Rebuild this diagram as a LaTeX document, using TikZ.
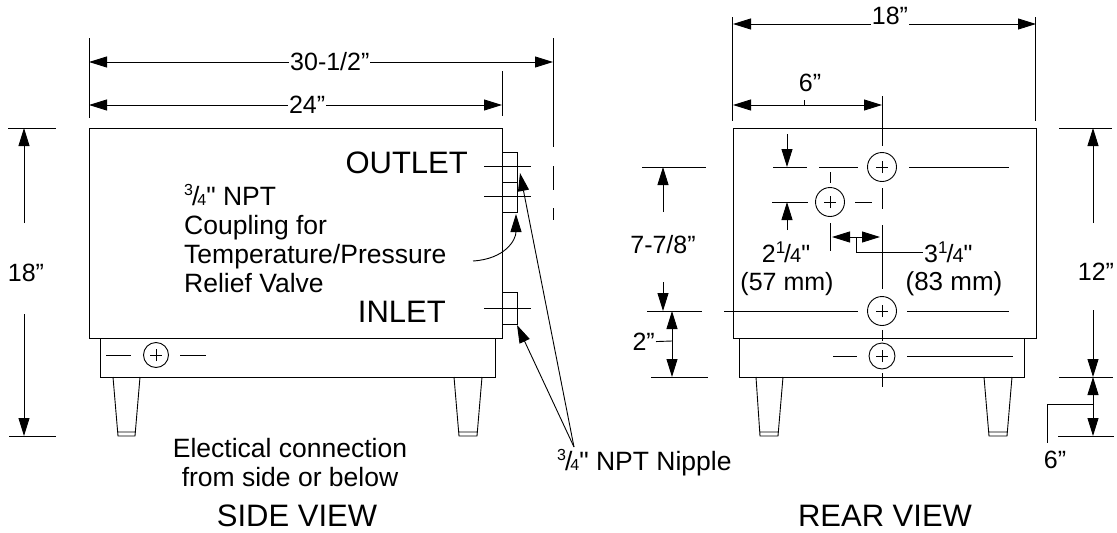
\documentclass[tikz,border=0pt]{standalone}
\usepackage{fontspec}
\newfontfamily\drawfont{Liberation Sans}
\usepackage{amsmath}
\usetikzlibrary{arrows.meta,positioning,calc}
\tikzstyle{part} = [line width=1pt, draw=black]
\tikzstyle{thinline} = [line width=0.9pt, draw=black]
\tikzstyle{dimto} = [line width=0.9pt, -{Triangle[length=18pt,width=11pt]}]
\tikzstyle{dimboth} = [line width=0.9pt, {Triangle[length=18pt,width=11pt]}-{Triangle[length=18pt,width=11pt]}]
\tikzstyle{dimtext} = [font=\drawfont\fontsize{25}{25}\selectfont, inner sep=1pt]
\tikzstyle{onlinetext} = [dimtext, fill=white]
\tikzstyle{labeltext} = [font=\drawfont\fontsize{26.5}{29}\selectfont, inner sep=0pt, align=center]
\tikzstyle{bigtext} = [font=\drawfont\fontsize{31}{31}\selectfont, inner sep=0pt]
\tikzstyle{port} = [circle, draw=black, line width=0.9pt, inner sep=0pt, minimum size=#1,
  path picture={\draw [line width=0.7pt] (path picture bounding box.center) +(-6pt,0) -- +(6pt,0)
    (path picture bounding box.center) +(0,-6pt) -- +(0,6pt);}]
\newcommand{\quarters}{\raisebox{.38em}{\fontsize{16}{16}\selectfont 3}\kern-1pt/\kern-2pt{\fontsize{16}{16}\selectfont 4}}
\newcommand{\onequarter}{\raisebox{.36em}{\fontsize{17}{17}\selectfont 1}\kern-1pt/\kern-1pt{\fontsize{20}{20}\selectfont 4}}
\begin{document}
\begin{tikzpicture}[x=1pt, y=-1pt]
	\useasboundingbox (0,0) rectangle (1117,533);

	% side view
	\draw [part] (89,128) rectangle (502,338);
	\draw [part] (100,338) rectangle (495,377);
	\foreach \xa/\xb/\xc/\xd in {113/118/135/140, 454/459/477/482, 756/760/778/783, 984/989/1007/1012}
		\draw [thinline] (\xa,377) -- (\xb,436) -- (\xc,436) -- (\xd,377) (\xb,432) -- (\xc,432);
	\draw [part] (502,152) rectangle (517,212) (502,182) -- (517,182);
	\draw [part] (502,292) rectangle (517,324);
	\foreach \y in {166,196,308}
		\draw [thinline] (484,\y) -- (531,\y);
	\node (sideport) [port=25pt] at (156,355) {};
	\draw [thinline] (106,355) -- (131,355) (180,355) -- (206,355);

	\coordinate (sideL1) at (89,62);
	\coordinate (sideR1) at (553,62);
	\coordinate (sideL2) at (89,105);
	\coordinate (sideR2) at (502,105);
	\draw [thinline] (89,38) -- (89,118) (502,71) -- (502,116);
	\draw [thinline] (553.5,38) -- (553.5,147) (553.5,166) -- (553.5,190) (553.5,208) -- (553.5,220);
	\draw [dimboth] (sideL1) -- node[onlinetext, pos=0.519] {30-1/2”} (sideR1);
	\draw [dimboth] (sideL2) -- node[onlinetext, pos=0.528] {24”} (sideR2);

	\draw [thinline] (8,128) -- (56,128) (9,436) -- (56,436);
	\coordinate (sideT) at (24,128);
	\coordinate (sideB) at (24,436);
	\node (side18) [dimtext] at (26,273) {18”};
	\draw [dimto] (24,223) -- (sideT);
	\draw [dimto] (24,314) -- (sideB);

	\node (outlet) [bigtext, anchor=east] at (468,163) {OUTLET};
	\node (inlet) [bigtext, anchor=east] at (446,312) {INLET};
	\node (coupling) [labeltext, align=left, anchor=north west] at (184,184) {\quarters" NPT\\Coupling for\\Temperature/Pressure\\Relief Valve};
	\node (elec) [labeltext] at (290,463) {Electical connection\\from side or below};
	\node (sidetitle) [bigtext] at (297,516) {SIDE VIEW};

	\coordinate (valvestart) at (473,261);
	\coordinate (valvetip) at (516,214);
	\draw [dimto] (valvestart) .. controls (505,259) and (516,240) .. (valvetip);
	\node (nipple) [labeltext, anchor=west] at (557,463) {\quarters" NPT Nipple};
	\coordinate (nipplefrom) at (574,447);
	\coordinate (nippletipA) at (520,173);
	\coordinate (nippletipB) at (517,325);
	\draw [dimto] (nipplefrom) -- (nippletipA);
	\draw [dimto] (nipplefrom) -- (nippletipB);

	% rear view
	\draw [part] (733,128) rectangle (1036,338);
	\draw [part] (739,338) rectangle (1024,377);
	\node (portA) [port=29pt] at (882,167) {};
	\node (portB) [port=29pt] at (830,202) {};
	\node (portC) [port=29pt] at (882,311) {};
	\node (portD) [port=26pt] at (882,356) {};
	\draw [thinline] (819,167) -- (858,167) (909,167) -- (1009,167);
	\draw [thinline] (855,202) -- (872,202);
	\draw [thinline] (724,311) -- (858,311) (907,311) -- (1009,311);
	\draw [thinline] (833,356) -- (857,356) (907,356) -- (1013,356);
	\draw [thinline] (882,96) -- (882,146) (882,188) -- (882,209) (882,225) -- (882,289)
		(882,330) -- (882,341) (882,373) -- (882,387);
	\draw [thinline] (830,172) -- (830,183) (830,223) -- (830,251);

	\coordinate (rearL1) at (733,24);
	\coordinate (rearR1) at (1036,24);
	\coordinate (rearL2) at (733,105);
	\coordinate (rearM2) at (882,105);
	\draw [thinline] (732.5,17) -- (732.5,121) (1035.5,17) -- (1035.5,121);
	\draw [dimboth] (rearL1) -- node[onlinetext, pos=0.518, yshift=8pt] {18”} (rearR1);
	\draw [dimboth] (rearL2) -- (rearM2);
	\draw [thinline] (804,100) -- (804,105);
	\node (rear6) [dimtext] at (810,83) {6”};

	% hole spacing
	\draw [thinline] (773,167) -- (807,167) (772,202) -- (808,202);
	\coordinate (gapT) at (787,167);
	\coordinate (gapB) at (787,202);
	\draw [dimto] (787,134) -- (gapT);
	\draw [dimto] (787,230) -- (gapB);
	\node (gapA) [dimtext] at (786,252) {2\onequarter"};
	\node (gapAmm) [dimtext] at (787,284) {(57 mm)};

	\coordinate (gapL) at (832,237);
	\coordinate (gapR) at (880,237);
	\coordinate (gapM) at (856,237);
	\draw [dimboth] (gapL) -- (gapR);
	\node (gapC) [dimtext, anchor=west] at (923,252) {3\onequarter"};
	\node (gapCmm) [dimtext, font=\drawfont\fontsize{26}{26}\selectfont] at (954,284) {(83 mm)};
	\draw [thinline] (gapM) |- (gapC);

	% left dimensions
	\draw [thinline] (642,167) -- (706,167) (647,311) -- (702,311) (651,377) -- (708,377);
	\coordinate (heightT) at (663,167);
	\coordinate (heightB) at (663,311);
	\draw [dimto] (663,212) -- (heightT);
	\draw [dimto] (663,282) -- (heightB);
	\node (height) [dimtext] at (663,245) {7-7/8”};
	\coordinate (baseT) at (672,311);
	\coordinate (baseB) at (672,377);
	\coordinate (baseM) at (672,341);
	\draw [dimboth] (baseT) -- (baseB);
	\node (base2) [dimtext, anchor=east] at (656,342) {2”};
	\draw [thinline] (base2) -- (baseM);

	% right dimensions
	\draw [thinline] (1059,128) -- (1112,128) (1059,377) -- (1113,377) (1058,436) -- (1114,436);
	\coordinate (rearT) at (1093,128);
	\coordinate (legT) at (1093,377);
	\coordinate (legB) at (1093,436);
	\coordinate (legM) at (1093,404);
	\coordinate (legC) at (1047,443);
	\draw [dimto] (1093,223) -- (rearT);
	\draw [dimto] (1093,310) -- (legT);
	\node (rear12) [dimtext] at (1096,272) {12”};
	\draw [dimboth] (legT) -- (legB);
	\draw [thinline] (legM) -| (legC);
	\node (leg6) [dimtext] at (1055,460) {6”};

	\node (reartitle) [bigtext] at (885,516) {REAR VIEW};
\end{tikzpicture}
\end{document}
